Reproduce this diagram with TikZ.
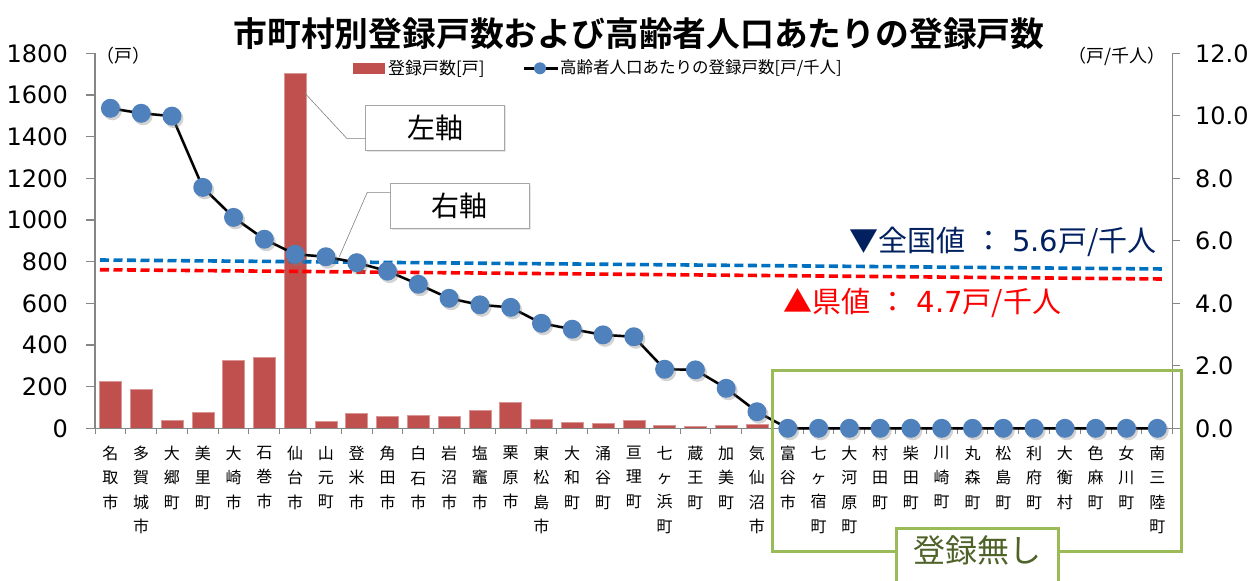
\documentclass[tikz,border=0pt]{standalone}
\usepackage{fontspec}
\setmainfont{Noto Sans CJK JP}[BoldFont={Noto Sans CJK JP Bold}]
\newfontfamily\numfont{DejaVu Sans}
\usetikzlibrary{shadows}
\definecolor{barred}{HTML}{C0504D}
\definecolor{dotblue}{HTML}{4F81BD}
\definecolor{axisgray}{HTML}{868686}
\definecolor{natblue}{HTML}{0070C0}
\definecolor{navy}{HTML}{002060}
\definecolor{boxgreen}{HTML}{9BBB59}
\definecolor{textgreen}{HTML}{4F6228}
\tikzset{
  bar/.style={fill=barred,draw=barred!60!white,line width=0.5pt},
  axis/.style={draw=axisgray,line width=1.2pt},
  dot/.style={circle,fill=dotblue,inner sep=0pt,minimum size=19pt,
    drop shadow={shadow xshift=2pt,shadow yshift=-2.5pt,opacity=.35}},
  rateline/.style={line width=2.4pt,black},
  refline/.style={line width=3.6pt,dash pattern=on 9pt off 4.5pt},
  catlabel/.style={anchor=north,inner sep=0pt,align=center,
    font=\fontsize{16}{24.3}\selectfont},
  leader/.style={draw=gray,line width=0.6pt},
  axisbox/.style={draw=gray!70,fill=white,line width=0.8pt,inner sep=0pt,
    font=\fontsize{28}{28}\selectfont,
    drop shadow={shadow xshift=1.5pt,shadow yshift=-1.5pt,opacity=.2}},
  refval/.style={inner sep=0pt,font=\fontsize{29}{29}\selectfont}
}
\begin{document}
\begin{tikzpicture}[x=1pt,y=-1pt]
\useasboundingbox (0,0) rectangle (1254,581);
% bars, dots and names
\foreach \n/\b/\r [count=\i] in {{名\\取\\市}/224/10.24,{多\\賀\\城\\市}/187/10.08,
  {大\\郷\\町}/37/9.99,{美\\里\\町}/78/7.71,{大\\崎\\市}/326/6.75,{石\\巻\\市}/342/6.05,
  {仙\\台\\市}/1706/5.57,{山\\元\\町}/35/5.49,{登\\米\\市}/73/5.3,{角\\田\\市}/59/5.03,
  {白\\石\\市}/64/4.61,{岩\\沼\\市}/59/4.16,{塩\\竈\\市}/86/3.95,{栗\\原\\市}/123/3.87,
  {東\\松\\島\\市}/45/3.36,{大\\和\\町}/29/3.17,{涌\\谷\\町}/24/2.99,{亘\\理\\町}/41/2.93,
  {七\\ヶ\\浜\\町}/16/1.89,{蔵\\王\\町}/12/1.87,{加\\美\\町}/16/1.28,{気\\仙\\沼\\市}/20/0.53,
  {富\\谷\\市}/0/0,{七\\ヶ\\宿\\町}/0/0,{大\\河\\原\\町}/0/0,{村\\田\\町}/0/0,
  {柴\\田\\町}/0/0,{川\\崎\\町}/0/0,{丸\\森\\町}/0/0,{松\\島\\町}/0/0,
  {利\\府\\町}/0/0,{大\\衡\\村}/0/0,{色\\麻\\町}/0/0,{女\\川\\町}/0/0,{南\\三\\陸\\町}/0/0}{
  \pgfmathsetmacro\cx{95+(\i-0.5)*30.79}
  \pgfmathsetmacro\by{428.3-\b*0.20833}
  \pgfmathsetmacro\ry{428.3-\r*31.25}
  \ifnum\b>0 \filldraw[bar] (\cx-11,428.3) rectangle (\cx+11,\by); \fi
  \coordinate (p\i) at (\cx,\ry);
  \node[catlabel] (c\i) at (\cx,446) {\n};
}
% axes
\draw[axis] (95,52.7) -- (95,428.3) -- (1172.7,428.3) -- (1172.7,52.7);
\foreach \v [count=\k from 0] in {0,200,...,1800}{
  \draw[axis] (86,428.3-\v*0.20833) -- (95,428.3-\v*0.20833);
  \node[anchor=east,inner sep=0pt,font=\numfont\fontsize{24}{24}\selectfont] (ll\k) at (68,428.3-\v*0.20833) {\v};
}
\foreach \k/\t in {0/0.0,1/2.0,2/4.0,3/6.0,4/8.0,5/10.0,6/12.0}{
  \draw[axis] (1172.7,428.3-\k*62.5) -- (1179.5,428.3-\k*62.5);
  \node[anchor=west,inner sep=0pt,font=\numfont\fontsize{24}{24}\selectfont] (rl\k) at (1195,428.3-\k*62.5) {\t};
}
\foreach \k in {0,...,35}
  \draw[axis,line width=1pt] (95+\k*30.79,428.3) -- ++(0,5.5);
\node[font=\fontsize{18}{18}\selectfont] (lunit) at (123,56) {（戸）};
\node[font=\fontsize{18}{18}\selectfont] (runit) at (1117,56) {（戸/千人）};
% reference values
\draw[refline,natblue] (100,260) -- (1165,269);
\draw[refline,red] (100,269.7) -- (1162,279);
\node[refval,anchor=east,text=navy] (natval) at (1157,241.7) {▼全国値\hspace{0.3em}：\hspace{0.3em}{\numfont 5.6}戸/千人};
\node[refval,anchor=west,text=red] (prefval) at (783,303) {▲県値\hspace{0.3em}：\hspace{0.3em}{\numfont 4.7}戸/千人};
% rate line
\draw[line width=3pt,black,opacity=.2,xshift=2pt,yshift=-2.5pt] (p1) \foreach \i in {2,...,35}{ -- (p\i)};
\draw[rateline] (p1) \foreach \i in {2,...,35}{ -- (p\i)};
\foreach \i in {1,...,35}
  \node[dot] (d\i) at (p\i) {};
% callouts
\node[axisbox,minimum width=139pt,minimum height=45.7pt] (lbox) at (435.3,127.8) {左軸};
\node[axisbox,minimum width=139pt,minimum height=45pt] (rbox) at (459.8,205.8) {右軸};
\coordinate (lt) at (305,93.3);
\coordinate (lk) at (346.7,138.3);
\coordinate (rt) at (339.3,256.7);
\coordinate (rk) at (367.3,192.3);
\draw[leader] (lt) -- (lk) -- (lk -| lbox.west);
\draw[leader] (rt) -- (rk) -- (rk -| rbox.west);
% no registration
\draw[boxgreen,line width=3pt] (772.3,370) rectangle (1181.7,551);
\node[draw=boxgreen,line width=3pt,fill=white,text=textgreen,anchor=north,minimum width=161.6pt,
  inner ysep=6pt,text height=28pt,text depth=40pt,font=\fontsize{32}{32}\selectfont] (none) at (977.5,527.3) {登録無し};
% title and legend
\node[font=\bfseries\fontsize{33.8}{33.8}\selectfont] (title) at (639,34) {市町村別登録戸数および高齢者人口あたりの登録戸数};
\fill[barred] (353.3,62.7) rectangle (385,74);
\node[anchor=west,inner sep=0pt,font=\fontsize{17}{17}\selectfont] (leg1) at (388,68.3) {登録戸数[戸]};
\coordinate (m1) at (524,68.3);
\coordinate (m2) at (558,68.3);
\draw[line width=2.4pt] (m1) -- (m2);
\node[circle,fill=dotblue,inner sep=0pt,minimum size=12pt] (legdot) at (540,68.3) {};
\node[anchor=west,inner sep=0pt,font=\fontsize{16.5}{16.5}\selectfont] (leg2) at (560,68.3) {高齢者人口あたりの登録戸数[戸/千人]};
\end{tikzpicture}
\end{document}
